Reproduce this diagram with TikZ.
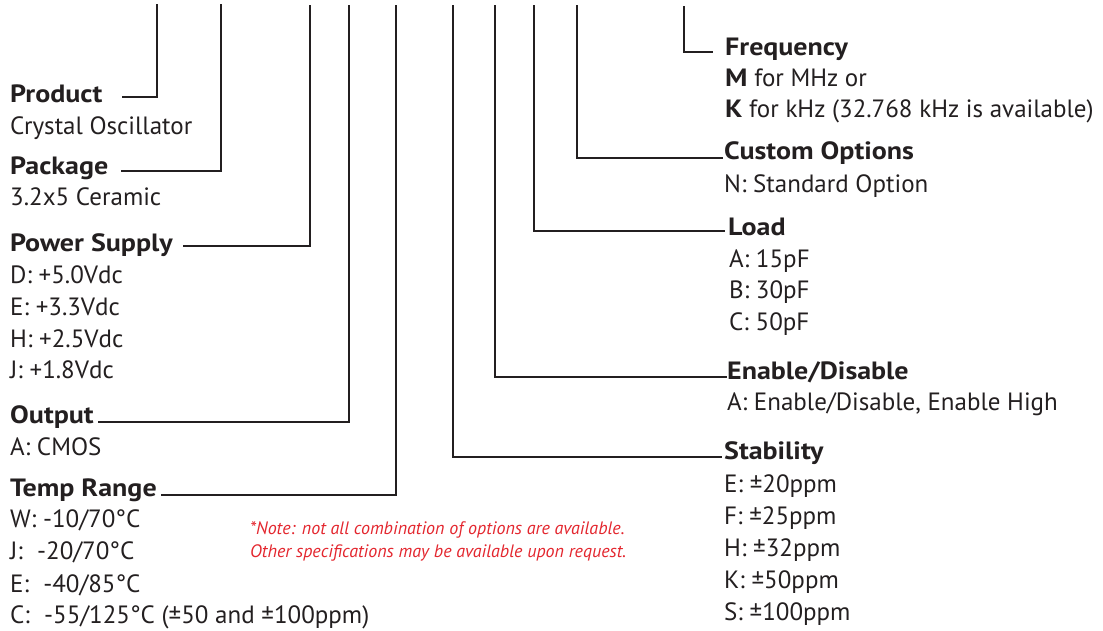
\documentclass[tikz,border=0pt]{standalone}
\usepackage{fontspec}
\setmainfont{PT Sans}[BoldFeatures={FakeStretch=1.12}]
\definecolor{ink}{HTML}{231F20}
\definecolor{notered}{HTML}{E3262E}
\begin{document}
\begin{tikzpicture}[x=1pt,y=-1pt,
  lead/.style={draw=ink, line width=2.3pt},
  hd/.style={anchor=base west, inner sep=0pt, text=ink, font=\fontsize{25}{29}\selectfont\bfseries},
  tx/.style={anchor=base west, inner sep=0pt, text=ink, font=\fontsize{25}{29}\selectfont},
  nt/.style={anchor=base west, inner sep=0pt, text=notered, font=\fontsize{18}{21}\selectfont\itshape}]
\useasboundingbox (0,0) rectangle (1103,630);

% left column
\node[hd] (prod) at (10,102) {Product};
\node[tx] (prod1) at (10,134) {Crystal Oscillator};
\node[hd] (pack) at (10,174) {Package};
\node[tx] (pack1) at (10,205) {3.2x5 Ceramic};
\node[hd] (pow) at (10,251) {Power Supply};
\node[tx] (pow1) at (10,283) {D: +5.0Vdc};
\node[tx] (pow2) at (10,315) {E: +3.3Vdc};
\node[tx] (pow3) at (10,347) {H: +2.5Vdc};
\node[tx] (pow4) at (10,378) {J: +1.8Vdc};
\node[hd] (out) at (10,423) {Output};
\node[tx] (out1) at (10,455) {A: CMOS};
\node[hd] (temp) at (10,496) {Temp Range};
\node[tx] (temp1) at (10,527) {W: -10/70°C};
\node[tx] (temp2) at (10,559) {J:\hspace{0.3em} -20/70°C};
\node[tx] (temp3) at (10,592) {E:\hspace{0.3em} -40/85°C};
\node[tx] (temp4) at (10,623) {C:\hspace{0.3em} -55/125°C (±50 and ±100ppm)};

% note
\node[nt] (note1) at (250,534) {*Note: not all combination of options are available.};
\node[nt] (note2) at (250,557) {Other specifications may be available upon request.};

% right column
\node[hd] (freq) at (725,55) {Frequency};
\node[tx] (freq1) at (725,86) {\textbf{M} for MHz or};
\node[tx] (freq2) at (725,117) {\textbf{K} for kHz (32.768 kHz is available)};
\node[hd] (cust) at (724,159) {Custom Options};
\node[tx] (cust1) at (724,192) {N: Standard Option};
\node[hd] (load) at (728,235) {Load};
\node[tx] (load1) at (729,267) {A: 15pF};
\node[tx] (load2) at (729,298) {B: 30pF};
\node[tx] (load3) at (729,330) {C: 50pF};
\node[hd] (en) at (727,379) {Enable/Disable};
\node[tx] (en1) at (727,410) {A: Enable/Disable, Enable High};
\node[hd] (stab) at (724,459) {Stability};
\node[tx] (stab1) at (724,492) {E: ±20ppm};
\node[tx] (stab2) at (724,524) {F: ±25ppm};
\node[tx] (stab3) at (724,556) {H: ±32ppm};
\node[tx] (stab4) at (724,588) {K: ±50ppm};
\node[tx] (stab5) at (724,620) {S: ±100ppm};

% leader coordinates
\coordinate (t1) at (157,4);  \coordinate (e1) at (122,97);
\coordinate (t2) at (221,4);  \coordinate (e2) at (121,171);
\coordinate (t3) at (310,5);  \coordinate (e3) at (183,246);
\coordinate (t4) at (349,5);  \coordinate (e4) at (98,422);
\coordinate (t5) at (396,5);  \coordinate (e5) at (161,495);
\coordinate (t6) at (453,5);  \coordinate (e6) at (722,457);
\coordinate (t7) at (495,5);  \coordinate (e7) at (727,377);
\coordinate (t8) at (534,5);  \coordinate (e8) at (725,231);
\coordinate (t9) at (577,5);  \coordinate (e9) at (723,158);
\coordinate (t10) at (684,6); \coordinate (e10) at (713,52);

\foreach \i in {1,...,10} {\draw[lead] (t\i) |- (e\i);}
\end{tikzpicture}
\end{document}
